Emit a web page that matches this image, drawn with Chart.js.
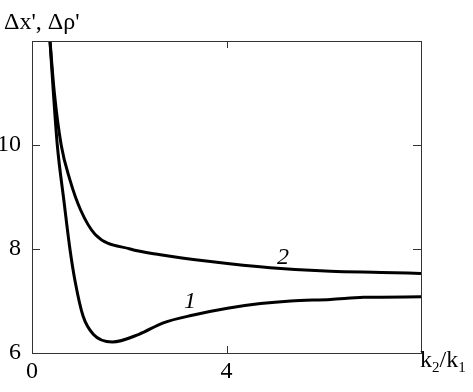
<!DOCTYPE html>
<html>
<head>
<meta charset="utf-8">
<script src="https://cdn.jsdelivr.net/npm/chart.js@4"></script>
<style>
  html, body { margin: 0; padding: 0; background: #fff; }
  #wrap { width: 473px; height: 392px; }
  #probe { font-family: "Liberation Serif"; position: absolute; left: -999px; }
</style>
</head>
<body>
<span id="probe">Δx 0123</span>
<div id="wrap"><canvas id="chart" width="473" height="392"></canvas></div>
<script>
// curve 1: k2/k1 vs Δx'
const curve1X = [0.37, 0.44, 0.52, 0.66, 0.78, 0.89, 1.05, 1.26, 1.65, 2.2, 2.7, 3.32, 4.02, 4.7, 5.32, 6.14, 6.82, 8]
const curve1Y = [12, 11, 10, 8.9, 8.0, 7.36, 6.71, 6.36, 6.21, 6.36, 6.58, 6.73, 6.86, 6.95, 7.0, 7.03, 7.07, 7.08]

// curve 2: k2/k1 vs Δρ'
const curve2X = [0.37, 0.46, 0.6, 0.78, 1.0, 1.3, 2.02, 2.64, 3.67, 4.9, 6.14, 7.18, 8]
const curve2Y = [12, 11, 10, 9.33, 8.75, 8.28, 8.0, 7.89, 7.76, 7.64, 7.57, 7.55, 7.53]

const xTicks = [0, 4, 8]
const xTickLabels = ["0", "4", ""]
const yTicks = [6, 8, 10, 12]
const yTickLabels = ["6", "8", "10", ""]

const serif = "\"Liberation Serif\", \"Times New Roman\", Tinos, \"DejaVu Serif\", serif"

const toPoints = (xs, ys) => xs.map((x, i) => ({ x: x, y: ys[i] }))

const frame = {
  id: "frame",
  afterDraw(chart) {
    const { ctx, chartArea: a, scales } = chart
    ctx.save()
    ctx.strokeStyle = "#333"
    ctx.lineWidth = 1
    ctx.strokeRect(a.left + 0.5, a.top + 0.5, a.right - a.left, a.bottom - a.top)

    // inward tick marks
    ctx.beginPath()
    yTicks.slice(1, -1).forEach(v => {
      const y = Math.round(scales.y.getPixelForValue(v)) + 0.5
      ctx.moveTo(a.left, y); ctx.lineTo(a.left + 8, y)
      ctx.moveTo(a.right, y); ctx.lineTo(a.right - 8, y)
    })
    xTicks.slice(1, -1).forEach(v => {
      const x = Math.round(scales.x.getPixelForValue(v)) + 0.5
      ctx.moveTo(x, a.bottom); ctx.lineTo(x, a.bottom - 7)
      ctx.moveTo(x, a.top); ctx.lineTo(x, a.top + 7)
    })
    ctx.stroke()

    // axis titles
    ctx.fillStyle = "#000"
    ctx.textBaseline = "alphabetic"
    ctx.font = "24px " + serif
    ctx.fillText("Δx', Δρ'", 4, 29)

    let x = 420
    const base = 367
    const parts = [["k", 0], ["2", 1], ["/k", 0], ["1", 1]]
    parts.forEach(([t, sub]) => {
      ctx.font = (sub ? "15px " : "24px ") + serif
      ctx.fillText(t, x, sub ? base + 5 : base)
      x += ctx.measureText(t).width
    })

    // curve labels
    ctx.font = "italic 24px " + serif
    ctx.fillText("1", 184, 308)
    ctx.fillText("2", 277, 264)
    ctx.restore()
  }
}

function draw() {
  new Chart(document.getElementById("chart"), {
    type: "scatter",
    data: {
      datasets: [
        { data: toPoints(curve1X, curve1Y), showLine: true },
        { data: toPoints(curve2X, curve2Y), showLine: true }
      ]
    },
    options: {
      responsive: false,
      animation: false,
      devicePixelRatio: 1,
      layout: { padding: { top: 41, right: 52, left: 0, bottom: 0 } },
      elements: {
        point: { radius: 0 },
        line: { borderColor: "#000", borderWidth: 3, cubicInterpolationMode: "monotone", fill: false }
      },
      plugins: { legend: { display: false }, tooltip: { enabled: false } },
      scales: {
        x: {
          type: "linear",
          min: 0, max: 8,
          afterBuildTicks: s => { s.ticks = xTicks.map(v => ({ value: v })) },
          afterFit: s => { s.height = 39 },
          grid: { display: false },
          border: { display: false },
          ticks: {
            color: "#000",
            padding: -4,
            font: { family: serif, size: 24 },
            callback: v => xTickLabels[xTicks.indexOf(v)] ?? ""
          }
        },
        y: {
          type: "linear",
          min: 6, max: 12,
          afterBuildTicks: s => { s.ticks = yTicks.map(v => ({ value: v })) },
          afterFit: s => { s.width = 32 },
          grid: { display: false },
          border: { display: false },
          ticks: {
            color: "#000",
            padding: 3,
            font: { family: serif, size: 24 },
            callback: v => yTickLabels[yTicks.indexOf(v)] ?? ""
          }
        }
      }
    },
    plugins: [frame]
  })
}

Promise.all([
  document.fonts.load("24px \"Liberation Serif\""),
  document.fonts.load("italic 24px \"Liberation Serif\"")
]).then(() => setTimeout(draw, 50), () => setTimeout(draw, 50))
</script>
</body>
</html>
